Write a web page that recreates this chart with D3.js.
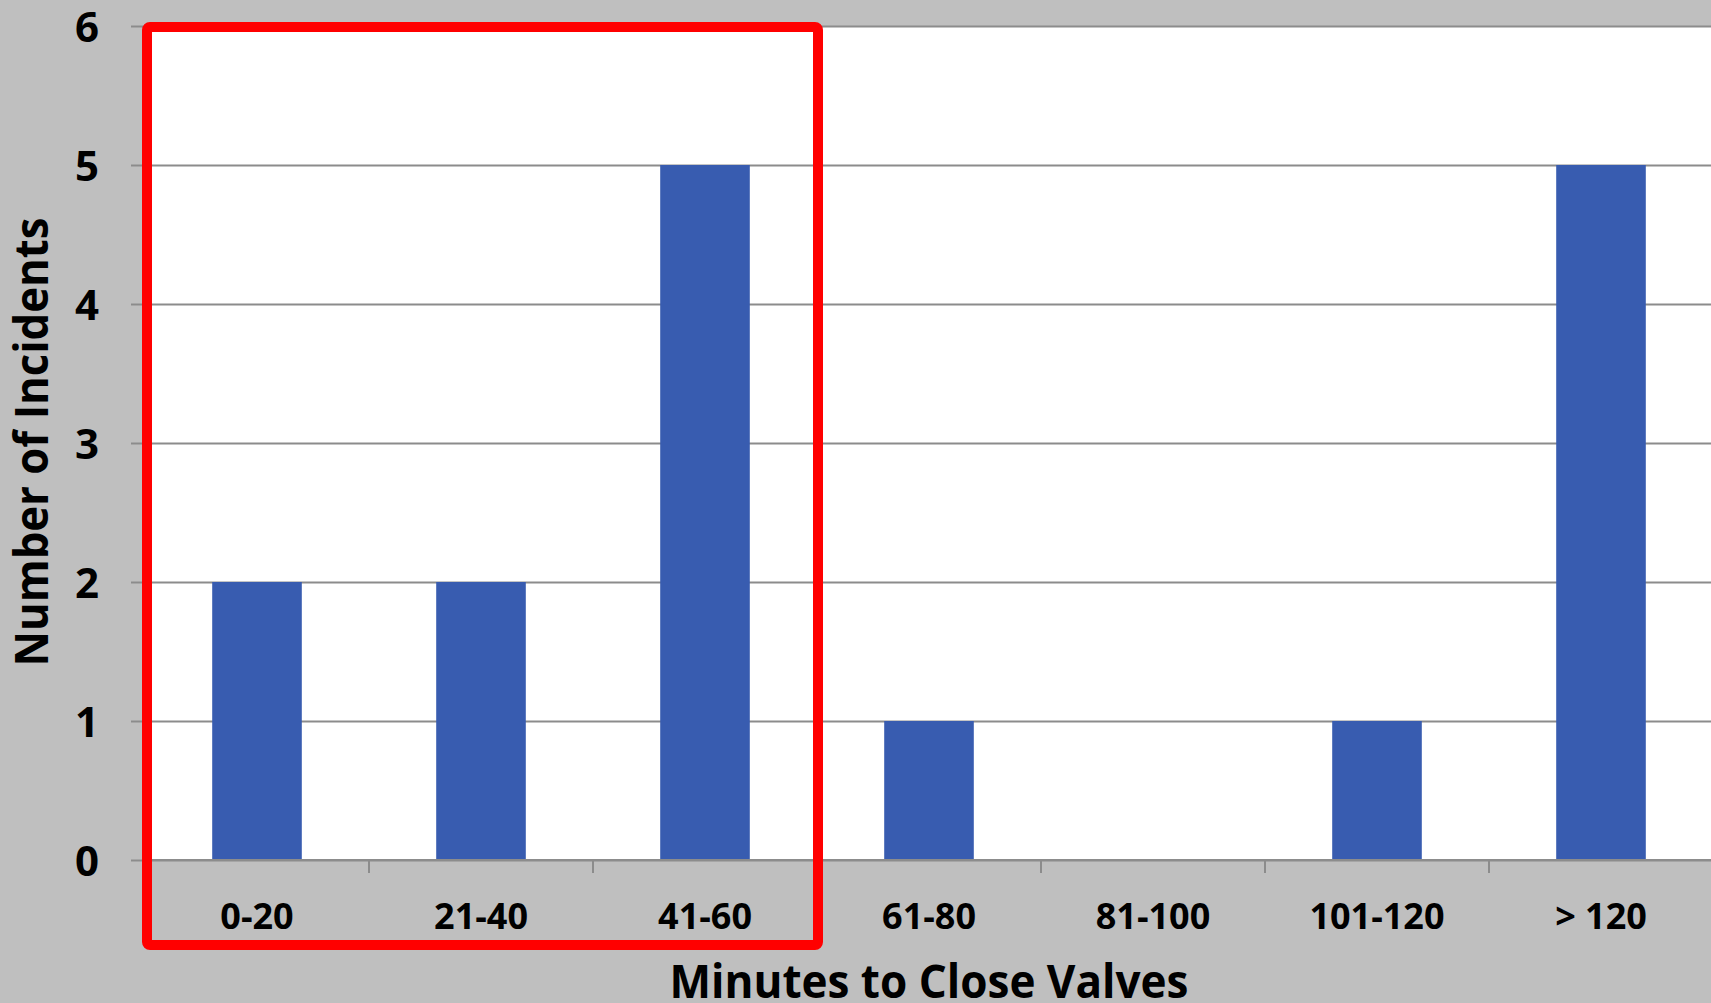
<!DOCTYPE html>
<html>
<head>
<meta charset="utf-8">
<script src="https://cdn.jsdelivr.net/npm/d3@7"></script>
<style>
  html, body { margin: 0; padding: 0; background: #BFBFBF; overflow: hidden; }
  svg { display: block; }
  text { font-family: "Open Sans", "Noto Sans", sans-serif; font-weight: 700; fill: #000; }
</style>
</head>
<body>
<svg id="chart" width="1711" height="1003"></svg>
<script>
const categories = ["0-20", "21-40", "41-60", "61-80", "81-100", "101-120", "> 120"];
const incidents = [2, 2, 5, 1, 0, 1, 5];
const yTickValues = [0, 1, 2, 3, 4, 5, 6];
const xTitle = "Minutes to Close Valves";
const yTitle = "Number of Incidents";
const highlighted = ["0-20", "21-40", "41-60"];

const W = 1711, H = 1003;
const plot = { left: 145, right: 1713, top: 26, bottom: 860 };

const svg = d3.select("#chart");
svg.append("rect").attr("width", W).attr("height", H).attr("fill", "#BFBFBF");

const x = d3.scaleBand()
  .domain(categories)
  .range([plot.left, plot.right])
  .paddingInner(0.6)
  .paddingOuter(0.3);

const y = d3.scaleLinear().domain([0, 6]).range([plot.bottom, plot.top]);

// plot area
svg.append("rect")
  .attr("x", plot.left).attr("y", plot.top)
  .attr("width", plot.right - plot.left).attr("height", plot.bottom - plot.top)
  .attr("fill", "#FFFFFF");

// gridlines (extend left as tick marks)
const gridG = svg.append("g").attr("transform", `translate(${plot.left},0)`)
  .call(d3.axisLeft(y).tickValues(yTickValues).tickSize(-(plot.right - plot.left)).tickFormat(""));
gridG.select(".domain").remove();
gridG.selectAll(".tick line").attr("stroke", "#8C8C8C").attr("stroke-width", 2);
gridG.selectAll(".tick").append("line")
  .attr("x1", -14).attr("x2", 0).attr("stroke", "#8C8C8C").attr("stroke-width", 2);

// y tick labels
const yLab = svg.append("g").attr("transform", `translate(99,0)`)
  .call(d3.axisLeft(y).tickValues(yTickValues).tickSize(0).tickPadding(0).tickFormat(d3.format("d")));
yLab.select(".domain").remove();
yLab.selectAll("text")
  .attr("font-size", 42).attr("dy", null).attr("dominant-baseline", null)
  .attr("y", 15).attr("x", 0).attr("text-anchor", "end");

// bars
svg.append("g").selectAll("rect.bar")
  .data(categories.map((c, i) => ({ c, v: incidents[i] })))
  .join("rect")
  .attr("class", "bar")
  .attr("x", d => x(d.c))
  .attr("width", x.bandwidth())
  .attr("y", d => y(d.v))
  .attr("height", d => y(0) - y(d.v))
  .attr("fill", "#385CB0");

// x axis
const xAxis = svg.append("g").attr("transform", `translate(0,${plot.bottom})`)
  .call(d3.axisBottom(x).tickSize(0).tickPadding(0));
xAxis.select(".domain").attr("stroke", "#8C8C8C").attr("stroke-width", 2)
  .attr("d", `M${plot.left},0H${plot.right}`);
xAxis.selectAll(".tick text")
  .attr("font-size", 36).attr("dy", null).attr("y", 69);
// category separator ticks
const step = x.step();
const seps = d3.range(1, categories.length).map(i => plot.left + i * step);
xAxis.selectAll("line.sep").data(seps).join("line")
  .attr("class", "sep")
  .attr("x1", d => d).attr("x2", d => d)
  .attr("y1", 0).attr("y2", 13)
  .attr("stroke", "#8C8C8C").attr("stroke-width", 2);

// titles
svg.append("text")
  .attr("x", (plot.left + plot.right) / 2).attr("y", 998)
  .attr("text-anchor", "middle").attr("font-size", 46)
  .attr("textLength", 519).attr("lengthAdjust", "spacingAndGlyphs")
  .text(xTitle);

svg.append("text")
  .attr("transform", "translate(48,442) rotate(-90)")
  .attr("text-anchor", "middle").attr("font-size", 46)
  .attr("textLength", 449).attr("lengthAdjust", "spacingAndGlyphs")
  .text(yTitle);

// highlight box around the first three categories
const hx0 = x(highlighted[0]) - x.step() * x.paddingOuter() + 2;
const hx1 = x(highlighted[highlighted.length - 1]) + x.bandwidth() + x.step() * x.paddingInner() / 2;
svg.append("rect")
  .attr("x", hx0).attr("y", y(6) + 1)
  .attr("width", hx1 - hx0 + 1).attr("height", 945 - (y(6) + 1))
  .attr("rx", 3)
  .attr("fill", "none").attr("stroke", "#FF0000").attr("stroke-width", 10);
</script>
</body>
</html>
